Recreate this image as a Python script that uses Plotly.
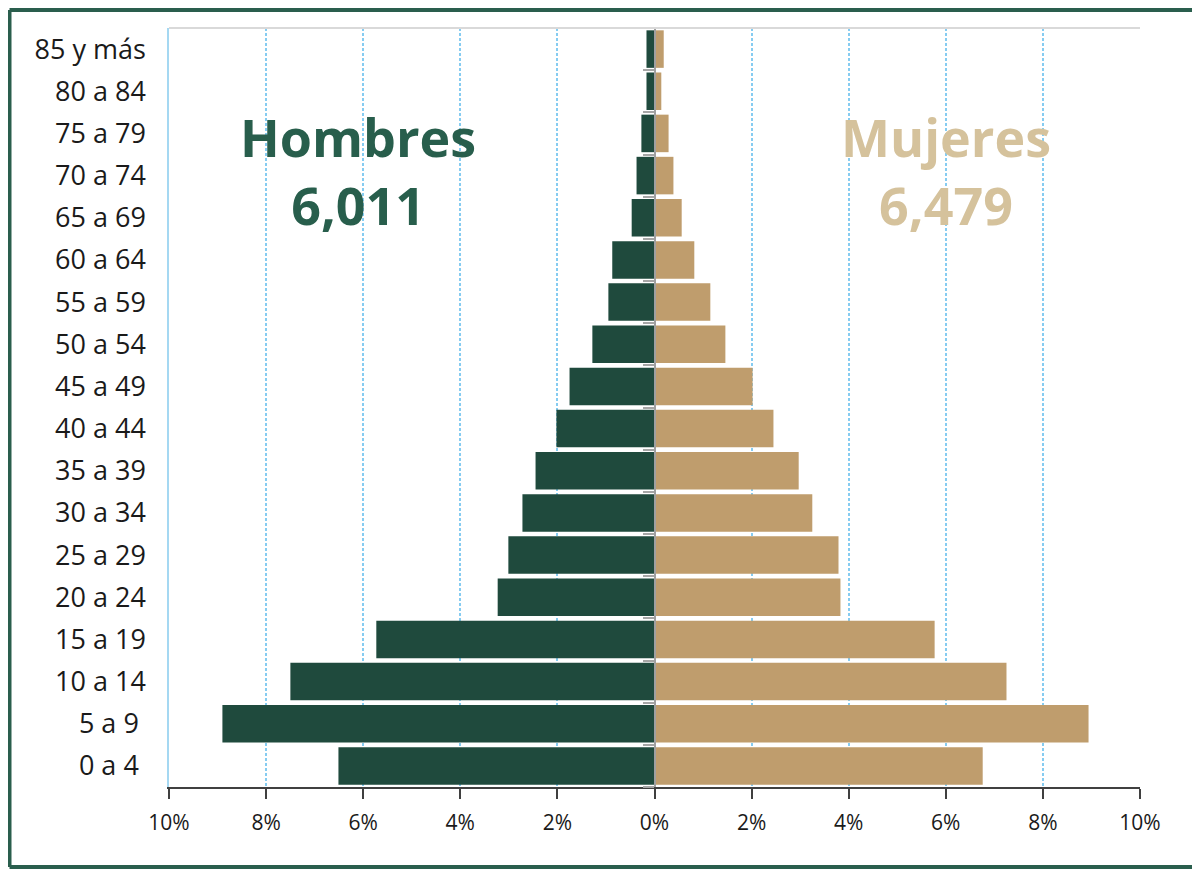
import plotly.graph_objects as go

# Age groups, bottom to top
age_groups = ["0 a 4\u00a0", "5 a 9\u00a0", "10 a 14", "15 a 19", "20 a 24", "25 a 29",
              "30 a 34", "35 a 39", "40 a 44", "45 a 49", "50 a 54", "55 a 59",
              "60 a 64", "65 a 69", "70 a 74", "75 a 79", "80 a 84", "85 y más"]

# Percent of total population
hombres = [6.51, 8.90, 7.50, 5.73, 3.23, 3.01, 2.72, 2.45, 2.02, 1.75,
           1.28, 0.95, 0.87, 0.47, 0.37, 0.27, 0.165, 0.165]
mujeres = [6.76, 8.94, 7.25, 5.77, 3.83, 3.79, 3.25, 2.97, 2.45, 2.02,
           1.46, 1.15, 0.82, 0.56, 0.39, 0.29, 0.14, 0.19]

tick_vals = [-10, -8, -6, -4, -2, 0, 2, 4, 6, 8, 10]
tick_text = ["10%", "8%", "6%", "4%", "2%", "0%", "2%", "4%", "6%", "8%", "10%"]

total_h = "6,011"
total_m = "6,479"

GREEN = "#1f4a3d"
TAN = "#bf9d6d"
FONT = "Open Sans"

# plot area in figure pixels
L, T, W, H = 161, 20, 971, 759

fig = go.Figure()
fig.add_trace(go.Bar(y=age_groups, x=[-v for v in hombres], orientation="h",
                     name="Hombres", marker=dict(color=GREEN, line=dict(width=0)),
                     hoverinfo="skip"))
fig.add_trace(go.Bar(y=age_groups, x=mujeres, orientation="h",
                     name="Mujeres", marker=dict(color=TAN, line=dict(width=0)),
                     hoverinfo="skip"))
# invisible trace to carry the central axis with boundary ticks
fig.add_trace(go.Scatter(y=age_groups, x=[0] * len(age_groups), yaxis="y2",
                         mode="markers", marker=dict(opacity=0),
                         hoverinfo="skip", showlegend=False))

fig.update_layout(
    width=1200, height=869,
    margin=dict(l=L, r=1200 - L - W, t=T, b=869 - T - H),
    paper_bgcolor="white", plot_bgcolor="white",
    barmode="relative", bargap=0.11,
    showlegend=False,
    font=dict(family=FONT, color="#1a1a1a"),
    xaxis=dict(range=[-10, 10], tickvals=tick_vals, ticktext=tick_text,
               showgrid=True, gridcolor="#86ccf1", griddash="3px,2px", gridwidth=1.5,
               zeroline=False, showline=True, linecolor="#404040", linewidth=2,
               ticks="outside", ticklen=10, tickwidth=1.5, tickcolor="#404040",
               tickfont=dict(size=21, color="#1a1a1a", family=FONT),
               ticklabelstandoff=6, fixedrange=True),
    yaxis=dict(type="category", categoryorder="array", categoryarray=age_groups,
               range=[-0.5, len(age_groups) - 0.5],
               showline=True, linecolor="#a5d8f2", linewidth=1.5, mirror=False,
               showgrid=False, ticks="", ticklabelstandoff=16,
               tickfont=dict(size=27, color="#1a1a1a", family=FONT)),
    yaxis2=dict(type="category", categoryorder="array", categoryarray=age_groups,
                range=[-0.5, len(age_groups) - 0.5],
                overlaying="y", anchor="free", position=0.5, side="left",
                showline=True, linecolor="#a0a0a0", linewidth=2,
                ticks="outside", tickson="boundaries", ticklen=11, tickwidth=2,
                tickcolor="#a6a6a6", showticklabels=False, showgrid=False),
)

# top light border of plot area
fig.add_shape(type="line", xref="paper", yref="paper", x0=0, x1=1, y0=1, y1=1,
              line=dict(color="#d9d9d9", width=2))
# outer green frame: left, top and bottom sides only (open on the right)
fx0 = (1.5 - L) / W
fx1 = (1196 - L) / W
fyb = (T + H - 859) / H
fyt = (T + H - 2) / H
for x0, y0, x1, y1 in [(fx0, fyb, fx0, fyt), (fx0, fyt, fx1, fyt), (fx0, fyb, fx1, fyb)]:
    fig.add_shape(type="line", xref="paper", yref="paper", x0=x0, y0=y0, x1=x1, y1=y1,
                  line=dict(color="#2a5e4d", width=4), layer="above")

for name, total, xv, col in [("Hombres", total_h, -6.1, "#285e4c"),
                             ("Mujeres", total_m, 6.0, "#d5c29c")]:
    fig.add_annotation(x=xv, xref="x", y=(T + H - 162) / H, yref="paper",
                       text="<b>" + name + "<br>" + total + "</b>", showarrow=False,
                       font=dict(size=52, color=col, family=FONT),
                       xanchor="center", yanchor="middle")

fig.write_html("out.html")
